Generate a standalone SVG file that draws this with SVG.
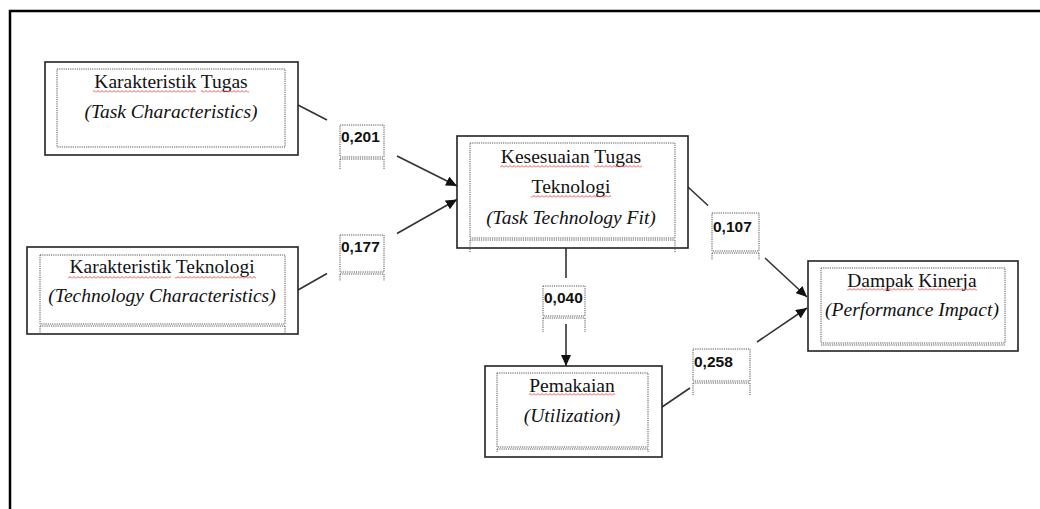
<svg xmlns="http://www.w3.org/2000/svg" width="1040" height="509" viewBox="0 0 1040 509">
<style>
.outer{fill:#fff;stroke:#222;stroke-width:1.6}
.dot{fill:none;stroke:#555;stroke-width:1;stroke-dasharray:1.2 1}
.lbl{fill:#fff;stroke:#555;stroke-width:1;stroke-dasharray:1.2 1}
.t{font-family:"Liberation Serif","Times New Roman",serif;font-size:19.5px;fill:#111;text-anchor:middle}
.i{font-style:italic}
.n{font-family:"Liberation Sans",Arial,sans-serif;font-size:15.5px;font-weight:bold;fill:#111}
.ln{fill:none;stroke:#333;stroke-width:1.6}
.sq{fill:url(#wave)}
</style>
<defs>
<pattern id="wave" width="4" height="3" patternUnits="userSpaceOnUse"><path d="M0,2.5 L2,0.5 L4,2.5" fill="none" stroke="#e22" stroke-width="0.8"/></pattern>
<marker id="ah" markerWidth="12" markerHeight="10" refX="11" refY="5" orient="auto" markerUnits="userSpaceOnUse"><path d="M0,0 L11,5 L0,10 z" fill="#111"/></marker>
</defs>
<rect width="1040" height="509" fill="#fff"/>
<path d="M10,509 V11 H1040" fill="none" stroke="#000" stroke-width="2.5"/>

<g id="connectors">
<path class="ln" d="M298,105 L327,120"/>
<path class="ln" d="M397,156 L457,186" marker-end="url(#ah)"/>
<path class="ln" d="M298,290 L327,273.5"/>
<path class="ln" d="M397,233.5 L457,199.5" marker-end="url(#ah)"/>
<path class="ln" d="M566,248 V278"/>
<path class="ln" d="M566,324 V366" marker-end="url(#ah)"/>
<path class="ln" d="M688,187 L708,205.5"/>
<path class="ln" d="M765,258 L807,297" marker-end="url(#ah)"/>
<path class="ln" d="M662,407 L690,388"/>
<path class="ln" d="M757,342 L807,308" marker-end="url(#ah)"/>
<g id="label-0201"><rect class="lbl" x="340" y="125" width="44" height="32"/><path class="dot" d="M340,159 H384 M340,159 V170 M384,159 V170"/><text class="n" x="341" y="142">0,201</text></g>
<g id="label-0177"><rect class="lbl" x="340" y="235" width="44" height="37"/><path class="dot" d="M340,274 H384 M340,274 V281 M384,274 V281"/><text class="n" x="341" y="252">0,177</text></g>
<g id="label-0040"><rect class="lbl" x="543" y="286" width="42" height="30"/><path class="dot" d="M543,318 H585 M543,318 V332 M585,318 V332"/><text class="n" x="544" y="303">0,040</text></g>
<g id="label-0107"><rect class="lbl" x="712" y="213" width="47" height="38"/><path class="dot" d="M712,253 H759 M712,253 V260 M759,253 V260"/><text class="n" x="713" y="232">0,107</text></g>
<g id="label-0258"><rect class="lbl" x="693" y="349" width="57" height="32"/><path class="dot" d="M693,383 H750 M693,383 V395 M750,383 V395"/><text class="n" x="694" y="367">0,258</text></g>
</g>

<g id="node-task">
<rect class="outer" x="45" y="62" width="253" height="93"/>
<rect class="dot" x="57" y="69" width="228" height="78"/>
<text class="t" x="171" y="87.5">Karakteristik Tugas</text>
<text class="t i" x="171" y="117.5">(Task Characteristics)</text>
<rect class="sq" x="93" y="90" width="103" height="3"/>
<rect class="sq" x="201" y="90" width="48" height="3"/>
</g>

<g id="node-tech">
<rect class="outer" x="27" y="247" width="271" height="87"/>
<rect class="dot" x="40" y="255" width="245" height="69"/>
<path class="dot" d="M40,326 H285 M40,326 V334 M285,326 V334"/>
<text class="t" x="162" y="272.5">Karakteristik Teknologi</text>
<text class="t i" x="162" y="301.5">(Technology Characteristics)</text>
<rect class="sq" x="68" y="276" width="103" height="3"/>
<rect class="sq" x="175" y="276" width="81" height="3"/>
</g>

<g id="node-ttf">
<rect class="outer" x="457" y="136" width="231" height="112"/>
<rect class="dot" x="470" y="143" width="205" height="95"/>
<path class="dot" d="M470,240 H675 M470,240 V253 M675,240 V253"/>
<text class="t" x="571" y="163">Kesesuaian Tugas</text>
<text class="t" x="571" y="192.5">Teknologi</text>
<text class="t i" x="571" y="223.5">(Task Technology Fit)</text>
<rect class="sq" x="500" y="165" width="89" height="3"/>
<rect class="sq" x="594" y="165" width="48" height="3"/>
<rect class="sq" x="531" y="195" width="80" height="3"/>
</g>

<g id="node-util">
<rect class="outer" x="485" y="366" width="177" height="91"/>
<rect class="dot" x="497" y="373" width="151" height="74"/>
<path class="dot" d="M497,449 H648 M497,449 V452 M648,449 V452"/>
<text class="t" x="572" y="391.5">Pemakaian</text>
<text class="t i" x="572" y="421.5">(Utilization)</text>
<rect class="sq" x="529" y="393" width="86" height="3"/>
</g>

<g id="node-impact">
<rect class="outer" x="808" y="261" width="210" height="90"/>
<rect class="dot" x="821" y="268" width="184" height="75"/>
<path class="dot" d="M821,345 H1005"/>
<text class="t" x="912" y="287">Dampak Kinerja</text>
<text class="t i" x="912" y="316">(Performance Impact)</text>
<rect class="sq" x="847" y="288" width="67" height="3"/>
<rect class="sq" x="918" y="288" width="59" height="3"/>
</g>
</svg>
